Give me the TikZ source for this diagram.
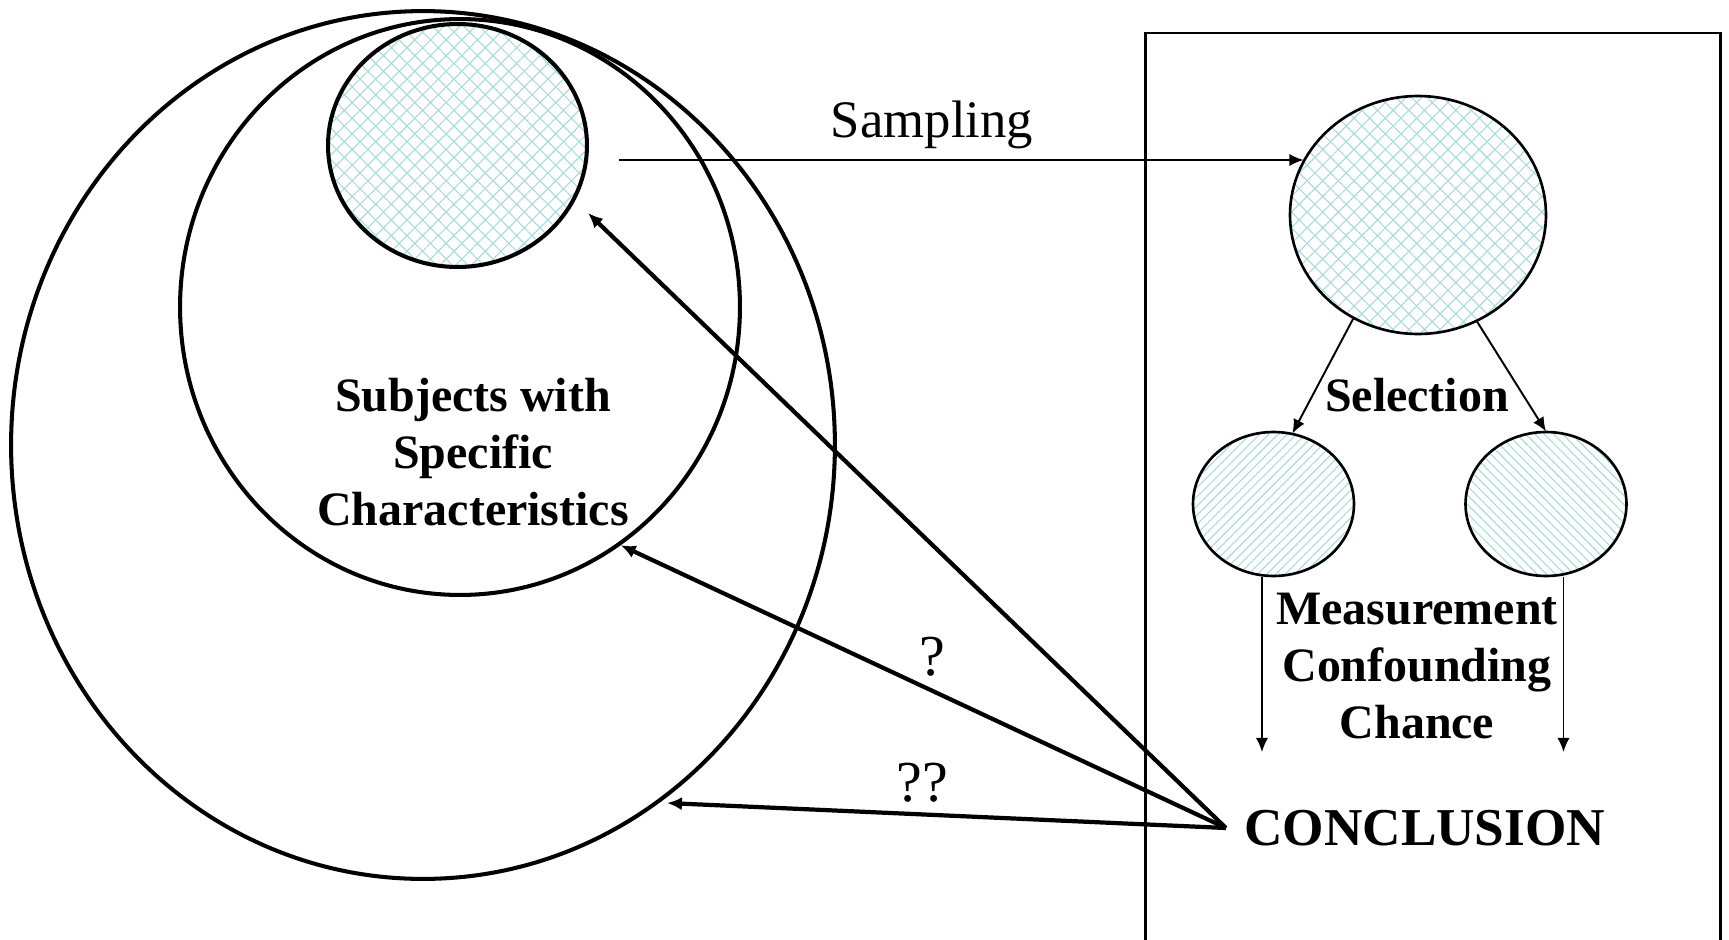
\documentclass[tikz,border=0pt]{standalone}
\usepackage{fontspec}
\setmainfont{Liberation Serif}
\usetikzlibrary{positioning, shapes.geometric, arrows.meta, patterns.meta}

\definecolor{hatchteal}{RGB}{170,220,220}

\tikzset{
  ring/.style={draw, ellipse, inner sep=0pt, line width=2.3pt},
  thinring/.style={draw, ellipse, inner sep=0pt, line width=1.5pt},
  crossfill/.style={pattern={Hatch[angle=45, distance=6.3pt, line width=0.65pt]}, pattern color=hatchteal},
  rightfill/.style={pattern={Lines[angle=45, distance=3.7pt, line width=0.65pt]}, pattern color=hatchteal},
  leftfill/.style={pattern={Lines[angle=-45, distance=3.7pt, line width=0.65pt]}, pattern color=hatchteal},
  boldtag/.style={font=\fontsize{27.3}{32.6}\selectfont\bfseries, align=center, inner sep=0pt},
  plaintag/.style={font=\fontsize{30}{36}\selectfont, inner sep=0pt},
  thinarrow/.style={-{Latex[length=8pt, width=7pt]}, line width=1.1pt},
  thickarrow/.style={-{Latex[length=8.5pt, width=7.5pt]}, line width=2.4pt}
}

\begin{document}
\begin{tikzpicture}[x=0.02cm, y=-0.02cm]
  \useasboundingbox (0,0) rectangle (1729,940);

  % population side
  \node[ring, minimum width=16.48cm, minimum height=17.36cm] (pop) at (423,445) {};
  \node[ring, minimum width=11.2cm, minimum height=11.52cm] (sub) at (460,307) {};
  \node[ring, crossfill, minimum width=5.18cm, minimum height=4.86cm] (src) at (457.5,145.5) {};
  \node[boldtag] (subtxt) at (473,452) {Subjects with\\Specific\\Characteristics};

  % study side
  \draw[line width=1.7pt] (1145,945) -- (1145,33) -- (1720,33) -- (1720,945);
  \node[thinring, crossfill, minimum width=5.12cm, minimum height=4.76cm] (smp) at (1418,215) {};
  \node[thinring, rightfill, minimum width=3.22cm, minimum height=2.88cm] (grpa) at (1273.5,504) {};
  \node[thinring, leftfill, minimum width=3.22cm, minimum height=2.88cm] (grpb) at (1546,504) {};
  \node[boldtag] (seltxt) at (1417,395) {Selection};
  \node[boldtag] (errtxt) at (1417,666) {Measurement\\Confounding\\Chance};
  \node[font=\fontsize{30.3}{36}\selectfont\bfseries, anchor=west, inner xsep=10.2pt, inner ysep=0pt] (concl) at (1226,828) {CONCLUSION};

  \coordinate (smpstart) at (619,160);
  \coordinate (enda) at (1262,752);
  \coordinate (endb) at (1563.5,752);
  \coordinate (srctip) at (588,213);
  \coordinate (poptip) at (667,803);

  % sampling and selection
  \draw[thinarrow] (smpstart) -- (smpstart -| smp.154);
  \node[plaintag] (samtxt) at (932,125) {Sampling};
  \draw[thinarrow] (smp.238.6) -- (grpa.75.5);
  \draw[thinarrow] (smp.-61.5) -- (grpb.north);
  \draw[thinarrow] (grpa.south -| enda) -- (enda);
  \draw[thinarrow] (grpb.south -| endb) -- (endb);

  % inference back to the population
  \draw[thickarrow] (concl.west) -- (srctip);
  \draw[thickarrow] (concl.west) -- (sub.-56.6);
  \draw[thickarrow] (concl.west) -- (poptip);
  \node[font=\fontsize{33}{38}\selectfont, inner sep=0pt] (q1) at (932,657) {?};
  \node[font=\fontsize{33}{38}\selectfont, inner sep=0pt] (q2) at (922,783) {??};
\end{tikzpicture}
\end{document}
